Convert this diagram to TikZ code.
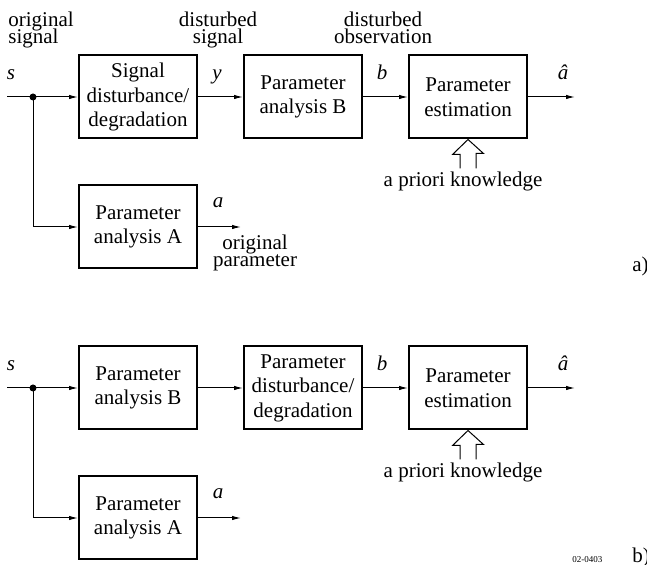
\documentclass[tikz,border=0pt]{standalone}
\usepackage{fontspec}
\setmainfont{Liberation Serif}
\usetikzlibrary{positioning}
\usetikzlibrary{arrows.meta}
\newcommand{\tightfont}{\fontsize{10.5}{8.5}\selectfont\lineskiplimit=-10pt\relax}
\tikzstyle{block} = [rectangle, draw=black, line width=1pt, minimum width=59pt, minimum height=41.5pt, inner sep=0pt, text centered, align=center, font=\fontsize{10.5}{12.25}\selectfont]
\tikzstyle{arrow} = [line width=0.5pt, -{Latex[length=4.5pt,width=2.2pt]}]
\tikzstyle{line} = [line width=0.5pt]
\tikzstyle{lbl} = [inner sep=0pt, align=center, font=\tightfont]
\tikzstyle{sym} = [inner sep=0pt, anchor=base, font=\fontsize{10.5}{12}\selectfont\itshape]

\begin{document}
\begin{tikzpicture}[x=0.5pt, y=-0.5pt, node distance=22.5pt]
        \useasboundingbox (0,0) rectangle (647,565);
        % a) signal is disturbed
        \node (sdeg) [block] at (138,97) {Signal\\disturbance/\\degradation};
        \node (anaB) [block, right=of sdeg] {Parameter\\analysis B};
        \node (est) [block, right=of anaB] {Parameter\\estimation};
        \node (anaA) [block, below=of sdeg] {Parameter\\analysis A};
        \coordinate (in1) at (7,97);
        \coordinate (split1) at (33,97);
        \coordinate [right=23.5pt of est] (out1);
        \coordinate [right=21.5pt of anaA] (outA1);
        \draw [line] (in1) -- (split1);
        \draw [arrow] (split1) -- (sdeg);
        \draw [arrow] (split1) |- (anaA);
        \fill (split1) circle (1.75pt);
        \draw [arrow] (sdeg) -- (anaB);
        \draw [arrow] (anaB) -- (est);
        \draw [arrow] (est) -- (out1);
        \draw [arrow] (anaA) -- (outA1);
        \draw [line] ([shift={(-4pt,-14.5pt)}]est.south) -- ++(0,7pt) -- ++(-3.75pt,0) -- (est.south) -- ++(7.75pt,-7pt) -- ++(-3.75pt,0) -- ++(0,-7.5pt);
        \node (lorig) [lbl, anchor=base west, align=left] at (8,44) {original\\signal};
        \node (ldist) [lbl, anchor=base] at (218,44) {disturbed\\signal};
        \node (lobs) [lbl, anchor=base] at (383,44) {disturbed\\observation};
        \node (lpar) [lbl, anchor=base] at (255,267) {original\\parameter};
        \node (lprior) [lbl, anchor=base] at (463,187) {a priori knowledge};
        \node (ls) [sym] at (11,80) {s};
        \node (ly) [sym] at (217,80) {y};
        \node (lb) [sym] at (382,80) {b};
        \node (lahat) [sym] at (563,80) {â};
        \node (la) [sym] at (218,208) {a};
        \node (tagA) [lbl, anchor=base west] at (632,272) {a)};

        % b) parameter is disturbed
        \node (anaB2) [block] at (138,388) {Parameter\\analysis B};
        \node (pdeg) [block, right=of anaB2] {Parameter\\disturbance/\\degradation};
        \node (est2) [block, right=of pdeg] {Parameter\\estimation};
        \node (anaA2) [block, below=of anaB2] {Parameter\\analysis A};
        \coordinate (in2) at (7,388);
        \coordinate (split2) at (33,388);
        \coordinate [right=23.5pt of est2] (out2);
        \coordinate [right=21.5pt of anaA2] (outA2);
        \draw [line] (in2) -- (split2);
        \draw [arrow] (split2) -- (anaB2);
        \draw [arrow] (split2) |- (anaA2);
        \fill (split2) circle (1.75pt);
        \draw [arrow] (anaB2) -- (pdeg);
        \draw [arrow] (pdeg) -- (est2);
        \draw [arrow] (est2) -- (out2);
        \draw [arrow] (anaA2) -- (outA2);
        \draw [line] ([shift={(-4pt,-14.5pt)}]est2.south) -- ++(0,7pt) -- ++(-3.75pt,0) -- (est2.south) -- ++(7.75pt,-7pt) -- ++(-3.75pt,0) -- ++(0,-7.5pt);
        \node (lprior2) [lbl, anchor=base] at (463,478) {a priori knowledge};
        \node (ls2) [sym] at (11,371) {s};
        \node (lb2) [sym] at (382,371) {b};
        \node (lahat2) [sym] at (563,371) {â};
        \node (la2) [sym] at (218,499) {a};
        \node (tagB) [lbl, anchor=base west] at (632,563) {b)};
        \node (code) [inner sep=0pt, anchor=base west, font=\fontsize{4.5}{5}\selectfont] at (572,562) {02-0403};
    \end{tikzpicture}
\end{document}
